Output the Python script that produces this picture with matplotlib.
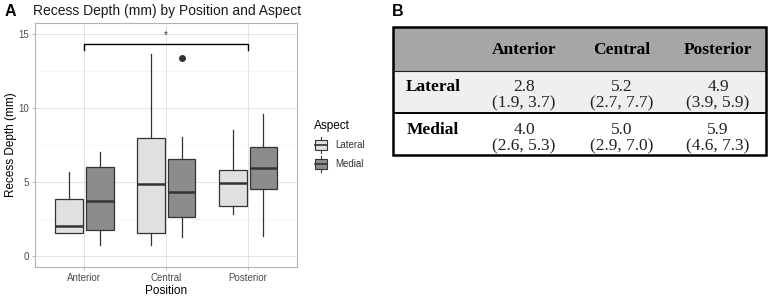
import matplotlib
matplotlib.use("Agg")
import matplotlib.pyplot as plt
from matplotlib.patches import Rectangle
from matplotlib.lines import Line2D
from matplotlib.legend_handler import HandlerBase

# ---- panel A data (box statistics) ----
positions = ["Anterior", "Central", "Posterior"]
aspects = ["Lateral", "Medial"]
lat_whislo = [1.55, 0.72, 2.84]
lat_q1 = [1.55, 1.53, 3.40]
lat_med = [2.03, 4.89, 4.93]
lat_q3 = [3.87, 7.95, 5.79]
lat_whishi = [5.68, 13.65, 8.51]
med_whislo = [0.72, 1.31, 1.37]
med_q1 = [1.76, 2.66, 4.55]
med_med = [3.72, 4.30, 5.92]
med_q3 = [6.01, 6.53, 7.34]
med_whishi = [7.03, 8.06, 9.61]
med_fliers = [[], [13.35], []]
lat_fliers = [[], [], []]
sig_from, sig_to, sig_y, sig_label = "Anterior", "Posterior", 14.32, "*"

# ---- panel B data ----
tab_cols = ["Anterior", "Central", "Posterior"]
tab_rows = ["Lateral", "Medial"]
tab_median = [["2.8", "5.2", "4.9"], ["4.0", "5.0", "5.9"]]
tab_range = [["(1.9, 3.7)", "(2.7, 7.7)", "(3.9, 5.9)"],
             ["(2.6, 5.3)", "(2.9, 7.0)", "(4.6, 7.3)"]]

SANS = ["Liberation Sans", "DejaVu Sans"]
SERIF = ["Liberation Serif", "DejaVu Serif"]
plt.rcParams["font.family"] = SANS

fills = {"Lateral": "#e0e0e0", "Medial": "#8c8c8c"}
line_col = "#333333"

W, H = 771, 296
fig = plt.figure(figsize=(W / 100, H / 100), dpi=100)


def px(x0, y0, x1, y1):
    # pixel box (top-left origin) -> figure fraction rect
    return [x0 / W, 1 - y1 / H, (x1 - x0) / W, (y1 - y0) / H]


ax = fig.add_axes(px(35, 23, 297, 267))


def stats(lo, q1, med, q3, hi, fl):
    return [dict(whislo=a, q1=b, med=c, q3=d, whishi=e, fliers=f)
            for a, b, c, d, e, f in zip(lo, q1, med, q3, hi, fl)]


groups = {
    "Lateral": stats(lat_whislo, lat_q1, lat_med, lat_q3, lat_whishi, lat_fliers),
    "Medial": stats(med_whislo, med_q1, med_med, med_q3, med_whishi, med_fliers),
}
offsets = {"Lateral": -0.185, "Medial": 0.19}
xs = list(range(1, len(positions) + 1))

for asp in aspects:
    ax.bxp(groups[asp], positions=[x + offsets[asp] for x in xs], widths=0.34,
           patch_artist=True, showcaps=False, manage_ticks=False,
           boxprops=dict(facecolor=fills[asp], edgecolor=line_col, linewidth=0.9),
           whiskerprops=dict(color=line_col, linewidth=0.9),
           medianprops=dict(color=line_col, linewidth=1.8),
           flierprops=dict(marker="o", markerfacecolor=line_col,
                           markeredgecolor=line_col, markersize=4))

# significance bracket
xa = positions.index(sig_from) + 1
xb = positions.index(sig_to) + 1
ax.plot([xa, xa, xb, xb], [sig_y - 0.42, sig_y, sig_y, sig_y - 0.42],
        color="black", lw=1.0, zorder=5)
ax.text((xa + xb) / 2, sig_y + 0.6, sig_label, ha="center", va="center",
        fontsize=7, color="#333333")

ax.set_xlim(0.4, 3.6)
ax.set_ylim(-0.74, 15.74)
ax.set_xticks(xs)
ax.set_xticklabels(positions)
ax.set_yticks([0, 5, 10, 15])
ax.set_yticks([2.5, 7.5, 12.5], minor=True)
ax.grid(True, which="major", color="#dedede", lw=0.6)
ax.grid(True, which="minor", axis="y", color="#f0f0f0", lw=0.4)
ax.set_axisbelow(True)
for s in ax.spines.values():
    s.set_color("#b3b3b3")
    s.set_linewidth(0.8)
ax.tick_params(which="major", colors="#b3b3b3", length=2.5, width=0.6,
               labelcolor="#4d4d4d", labelsize=7, pad=2)
ax.tick_params(which="minor", length=0)
ax.set_xlabel("Position", fontsize=8.5, labelpad=1)
ax.set_ylabel("Recess Depth (mm)", fontsize=8.5)
ax.yaxis.set_label_coords(-18 / 262, 0.5)

fig.text(33 / W, 1 - 11 / H, "Recess Depth (mm) by Position and Aspect",
         fontsize=10, ha="left", va="center", color="#1a1a1a")
fig.text(5 / W, 1 - 11 / H, "A", fontsize=11.5, fontweight="bold",
         ha="left", va="center")
fig.text(392 / W, 1 - 11 / H, "B", fontsize=11.5, fontweight="bold",
         ha="left", va="center")


# legend with box-shaped keys
class BoxKey(HandlerBase):
    def create_artists(self, legend, orig, xd, yd, width, height, fontsize, trans):
        x0, y0 = -xd, -yd
        cx, cy = x0 + width / 2, y0 + height / 2
        arts = [
            Line2D([cx, cx], [cy - 6, cy + 6], color=line_col, lw=0.8),
            Rectangle((x0 + 1, cy - 3.5), width - 2, 7,
                      facecolor=orig.get_facecolor(), edgecolor=line_col, lw=0.8),
            Line2D([x0 + 1, x0 + width - 1], [cy, cy], color=line_col, lw=1.2),
        ]
        for a in arts:
            a.set_transform(trans)
        return arts


handles = [Rectangle((0, 0), 1, 1, facecolor=fills[a]) for a in aspects]
leg = fig.legend(handles, aspects, handler_map={Rectangle: BoxKey()},
                 loc="upper left", bbox_to_anchor=(314 / W, 1 - 120 / H),
                 frameon=False, title="Aspect", fontsize=7,
                 title_fontsize=8.5, handlelength=1.5, handleheight=1.45,
                 handletextpad=0.7, labelspacing=0.75, borderaxespad=0,
                 borderpad=0)
leg._legend_box.align = "left"
for t in leg.get_texts():
    t.set_color("#333333")

# ---- panel B table ----
tx0, ty0, tx1, ty1 = 393, 27, 766, 155
tab = fig.add_axes(px(tx0, ty0, tx1, ty1))
tab.set_xlim(tx0, tx1)
tab.set_ylim(ty1, ty0)
tab.axis("off")
row_edges = [27, 71, 113, 155]
row_fill = ["#a6a6a6", "#efefef", "#ffffff"]
for i, fc in enumerate(row_fill):
    tab.add_patch(Rectangle((tx0, row_edges[i]), tx1 - tx0,
                            row_edges[i + 1] - row_edges[i],
                            facecolor=fc, edgecolor="none"))
tab.plot([tx0, tx1], [71, 71], color="#222222", lw=0.8)
tab.plot([tx0, tx1], [113, 113], color="black", lw=1.4)
tab.add_patch(Rectangle((tx0, ty0), tx1 - tx0, ty1 - ty0, facecolor="none",
                        edgecolor="black", lw=1.8, clip_on=False))

col_x = [524, 622, 718]
for cx, name in zip(col_x, tab_cols):
    tab.text(cx, 50, name, family=SERIF, fontweight="bold", fontsize=12.5,
             ha="center", va="center", color="black")
row_y = [87, 130]
for r, name in enumerate(tab_rows):
    tab.text(433, row_y[r], name, family=SERIF, fontweight="bold",
             fontsize=12.5, ha="center", va="center", color="black")
    for c, cx in enumerate(col_x):
        tab.text(cx, row_y[r], tab_median[r][c], family=SERIF, fontsize=12.5,
                 ha="center", va="center", color="#222222")
        tab.text(cx, row_y[r] + 16.5, tab_range[r][c], family=SERIF,
                 fontsize=12.5, ha="center", va="center", color="#222222")

fig.savefig("out.png", dpi=100)
